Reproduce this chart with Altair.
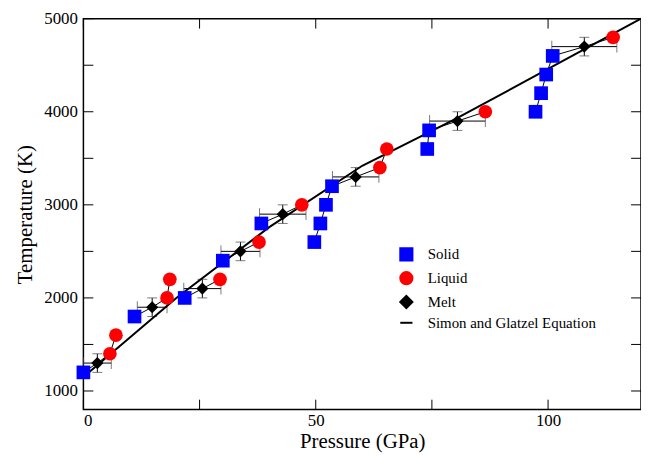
import altair as alt
import pandas as pd

# solid (P, T, group)
solid_p = [0, 11, 21.8, 30, 38.3, 49.7, 51, 52.2, 53.5, 74, 74.4, 97.3, 98.5, 99.6, 101]
solid_t = [1200, 1800, 2000, 2400, 2800, 2600, 2800, 3000, 3200, 3600, 3800, 4000, 4200, 4400, 4600]
solid_g = [1, 2, 3, 4, 5, 6, 6, 6, 6, 7, 7, 8, 8, 8, 8]

liquid_p = [5.7, 7, 18, 18.6, 29.4, 37.8, 47, 63.8, 65.3, 86.5, 114]
liquid_t = [1400, 1600, 2000, 2200, 2200, 2600, 3000, 3400, 3600, 4000, 4800]
liquid_g = [1, 1, 2, 2, 3, 4, 5, 6, 6, 7, 8]

melt_p = [3, 14.8, 25.6, 33.8, 42.9, 58.6, 80.5, 107.8]
melt_t = [1300, 1900, 2100, 2500, 2900, 3300, 3900, 4700]
melt_perr = [3, 3.2, 4, 4.2, 5, 5, 6, 7]
melt_terr = [100] * 8
melt_g = [1, 2, 3, 4, 5, 6, 7, 8]

sg_p = [0, 20, 40, 60, 80, 100, 120]
sg_t = [1150, 2000, 2760, 3420, 3920, 4460, 5000]

x_ticks = [0, 25, 50, 75, 100]
y_ticks = [1000, 1500, 2000, 2500, 3000, 3500, 4000, 4500, 5000]

W, H = 562, 394
FONT = "Liberation Serif, DejaVu Serif, serif"

solid = pd.DataFrame({"P": solid_p, "T": solid_t, "g": solid_g, "series": "Solid", "o": 0})
liquid = pd.DataFrame({"P": liquid_p, "T": liquid_t, "g": liquid_g, "series": "Liquid", "o": 2})
melt = pd.DataFrame({"P": melt_p, "T": melt_t, "g": melt_g, "series": "Melt", "o": 1,
                     "pe": melt_perr, "te": melt_terr})
melt["p0"] = melt["P"] - melt["pe"]
melt["p1"] = melt["P"] + melt["pe"]
melt["t0"] = melt["T"] - melt["te"]
melt["t1"] = melt["T"] + melt["te"]
pts = pd.concat([solid, liquid, melt[["P", "T", "g", "series", "o"]]], ignore_index=True)
pts["ord"] = pts["o"] * 10000 + pts["T"]
sg = pd.DataFrame({"P": sg_p, "T": sg_t, "series": "Simon and Glatzel Equation"})

xs = alt.Scale(domain=[0, 120], nice=False)
ys = alt.Scale(domain=[800, 5000], nice=False)
X = alt.X("P:Q", scale=xs, title="Pressure (GPa)",
          axis=alt.Axis(values=[0, 50, 100], format="d", ticks=False, grid=False, labelPadding=3))
Y = alt.Y("T:Q", scale=ys, title="Temperature (K)",
          axis=alt.Axis(values=[1000, 2000, 3000, 4000, 5000], format="d", ticks=False, grid=False, labelPadding=6))

domain = ["Solid", "Liquid", "Melt", "Simon and Glatzel Equation"]
color = alt.Color("series:N", scale=alt.Scale(domain=domain, range=["#0000ff", "#ff0000", "#000000", "#000000"]),
                  legend=alt.Legend(title=None, orient="none", legendX=318, legendY=230,
                                    labelFont=FONT, labelFontSize=15, symbolSize=150, labelLimit=400,
                                    symbolStrokeWidth=2, rowPadding=3, labelOffset=14))
shape = alt.Shape("series:N", scale=alt.Scale(domain=domain, range=["square", "circle", "diamond", "stroke"]))

links = alt.Chart(pts).mark_line(color="black", strokeWidth=1).encode(
    x=X, y=Y, detail="g:N", order="ord:Q")
curve = alt.Chart(sg).mark_line(color="black", strokeWidth=2).encode(x=X, y=Y)
herr = alt.Chart(melt).mark_rule(color="black", strokeWidth=1).encode(x="p0:Q", x2="p1:Q", y="T:Q")
verr = alt.Chart(melt).mark_rule(color="black", strokeWidth=1).encode(x="P:Q", y="t0:Q", y2="t1:Q")
hcap0 = alt.Chart(melt).mark_tick(color="#444", orient="vertical", size=12, thickness=1).encode(x="p0:Q", y="T:Q")
hcap1 = alt.Chart(melt).mark_tick(color="#444", orient="vertical", size=12, thickness=1).encode(x="p1:Q", y="T:Q")
vcap0 = alt.Chart(melt).mark_tick(color="#444", orient="horizontal", size=10, thickness=1).encode(x="P:Q", y="t0:Q")
vcap1 = alt.Chart(melt).mark_tick(color="#444", orient="horizontal", size=10, thickness=1).encode(x="P:Q", y="t1:Q")
marks = alt.Chart(pts).mark_point(filled=True, opacity=1).encode(
    x=X, y=Y, color=color, shape=shape,
    size=alt.condition("datum.series == 'Melt'", alt.value(150), alt.value(190)))
legend_line = alt.Chart(sg).mark_point(opacity=0).encode(x=X, y=Y, color=color, shape=shape)

xt = pd.DataFrame({"v": x_ticks})
yt = pd.DataFrame({"v": y_ticks})
def xtick(y0, y1):
    return alt.Chart(xt).mark_rule(color="black").encode(
        x=alt.X("v:Q", scale=xs), y=alt.value(y0), y2=alt.value(y1))
def ytick(x0, x1):
    return alt.Chart(yt).mark_rule(color="black").encode(
        y=alt.Y("v:Q", scale=ys), x=alt.value(x0), x2=alt.value(x1))
ticks = xtick(H, H - 10) + xtick(0, 10) + ytick(0, 10) + ytick(W, W - 10)

chart = alt.layer(ticks, herr, verr, hcap0, hcap1, vcap0, vcap1, links, curve, marks, legend_line).properties(
    width=W, height=H, autosize=alt.AutoSizeParams(type="none"),
    padding={"left": 76, "top": 9, "right": 0, "bottom": 46},
).configure_view(stroke="black", strokeWidth=1.5).configure_axis(
    labelFont=FONT, titleFont=FONT, labelFontSize=17, titleFontSize=21,
    titleFontWeight="normal", labelColor="black", titleColor="black", domain=False,
).configure_axisX(titlePadding=2).configure_axisY(titlePadding=8).configure_text(font=FONT)

chart.save("out.html", embed_options={"renderer": "svg", "actions": False})
